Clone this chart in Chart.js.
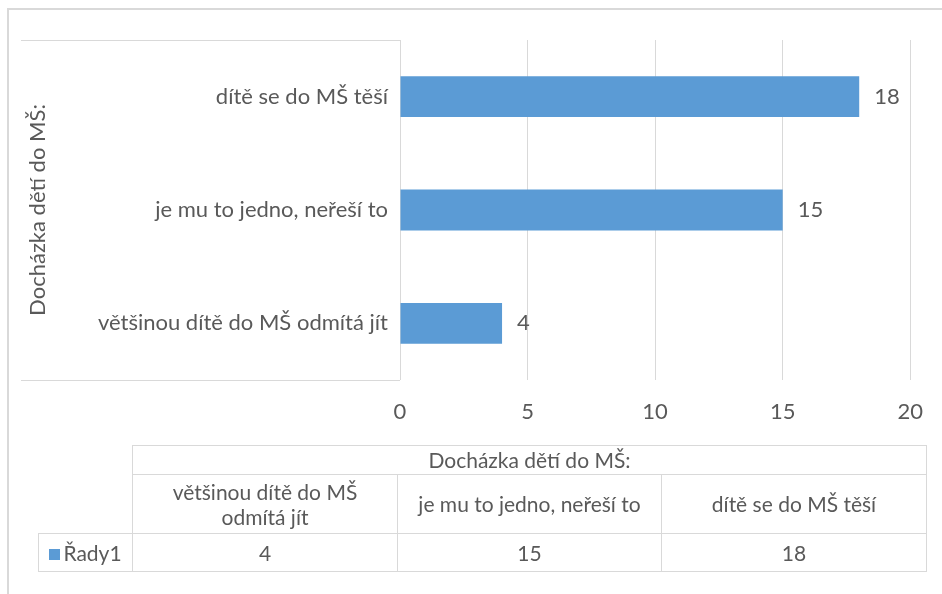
<!DOCTYPE html>
<html>
<head>
<meta charset="utf-8">
<script src="https://cdn.jsdelivr.net/npm/chart.js"></script>
<style>
body { margin: 0; background: #fff; font-family: Lato, sans-serif; }
#wrap { position: relative; width: 942px; height: 594px; overflow: hidden; }
#frame { position: absolute; left: 7px; top: 8px; width: 980px; height: 640px; border-left: 2px solid #d9d9d9; border-top: 2px solid #d9d9d9; }
#chartBox { position: absolute; left: 0; top: 0; width: 942px; height: 594px; }
#dataTable { position: absolute; left: 38px; top: 445px; border-collapse: collapse; color: #595959; font-size: 21px; line-height: 1.2; }
#dataTable td { border: 1px solid #d9d9d9; text-align: center; padding: 0; }
#dataTable td.blank { border: none; }
#dataTable td.cat { padding: 0 6px; }
.key { display: inline-block; width: 11px; height: 11px; background: #5b9bd5; margin-right: 3px; vertical-align: 1px; }
</style>
</head>
<body>
<div id="wrap">
    <div id="frame"></div>
    <div id="chartBox"><canvas id="barChart"></canvas></div>
    <table id="dataTable"></table>
</div>
<script>
const axisTitle = "Docházka dětí do MŠ:";
const categories = ["většinou dítě do MŠ odmítá jít", "je mu to jedno, neřeší to", "dítě se do MŠ těší"];
const seriesName = "Řady1";
const values = [4, 15, 18];
const xMin = 0;
const xMax = 20;
const xStep = 5;

const textColor = "#595959";
const lineColor = "#d9d9d9";
const barColor = "#5b9bd5";

// value labels to the right of each bar
const valueLabels = {
    id: "valueLabels",
    afterDatasetsDraw(chart) {
        const ctx = chart.ctx;
        const meta = chart.getDatasetMeta(0);
        ctx.save();
        ctx.font = "22px Lato";
        ctx.fillStyle = textColor;
        ctx.textBaseline = "middle";
        ctx.textAlign = "left";
        meta.data.forEach((bar, i) => {
            ctx.fillText(values[i], bar.x + 15, bar.y);
        });
        ctx.restore();
    }
};

// top/bottom lines of the category label area
const sideBox = {
    id: "sideBox",
    beforeDraw(chart) {
        const a = chart.chartArea;
        const ctx = chart.ctx;
        ctx.save();
        ctx.strokeStyle = lineColor;
        ctx.lineWidth = 1;
        ctx.beginPath();
        ctx.moveTo(21, a.top + 0.5);
        ctx.lineTo(a.left, a.top + 0.5);
        ctx.moveTo(21, a.bottom + 0.5);
        ctx.lineTo(a.left, a.bottom + 0.5);
        ctx.stroke();
        ctx.restore();
    }
};

new Chart(document.getElementById("barChart").getContext("2d"), {
    type: "bar",
    data: {
        labels: categories,
        datasets: [{
            label: seriesName,
            data: values,
            backgroundColor: barColor,
            categoryPercentage: 1,
            barPercentage: 0.36
        }]
    },
    options: {
        indexAxis: "y",
        responsive: true,
        maintainAspectRatio: false,
        animation: false,
        layout: { padding: { top: 40, right: 28, left: 0, bottom: 0 } },
        plugins: {
            legend: { display: false },
            tooltip: { enabled: false }
        },
        scales: {
            x: {
                min: xMin,
                max: xMax,
                ticks: { stepSize: xStep, color: textColor, font: { family: "Lato", size: 22 }, padding: 19 },
                grid: { color: lineColor, drawTicks: false },
                border: { display: false },
                afterFit(scale) { scale.height = 214; }
            },
            y: {
                reverse: true,
                grid: { display: false, drawTicks: false },
                border: { display: false },
                ticks: { color: textColor, font: { family: "Lato", size: 22 }, padding: 12 },
                title: {
                    display: true,
                    text: axisTitle,
                    color: textColor,
                    font: { family: "Lato", size: 22 },
                    padding: { top: 25, bottom: 0 }
                },
                afterFit(scale) { scale.width = 400; }
            }
        }
    },
    plugins: [sideBox, valueLabels]
});

// data table under the chart
function buildTable() {
    const table = document.getElementById("dataTable");
    const widths = [94, 265, 264, 265];
    let html = "<colgroup>" + widths.map(w => `<col style="width:${w}px">`).join("") + "</colgroup>";
    html += `<tr style="height:29px"><td class="blank"></td><td colspan="${categories.length}">${axisTitle}</td></tr>`;
    html += `<tr style="height:59px"><td class="blank"></td>` + categories.map(c => `<td class="cat">${c}</td>`).join("") + "</tr>";
    html += `<tr style="height:38px"><td><span class="key"></span>${seriesName}</td>` + values.map(v => `<td>${v}</td>`).join("") + "</tr>";
    table.innerHTML = html;
}

buildTable();
</script>
</body>
</html>
